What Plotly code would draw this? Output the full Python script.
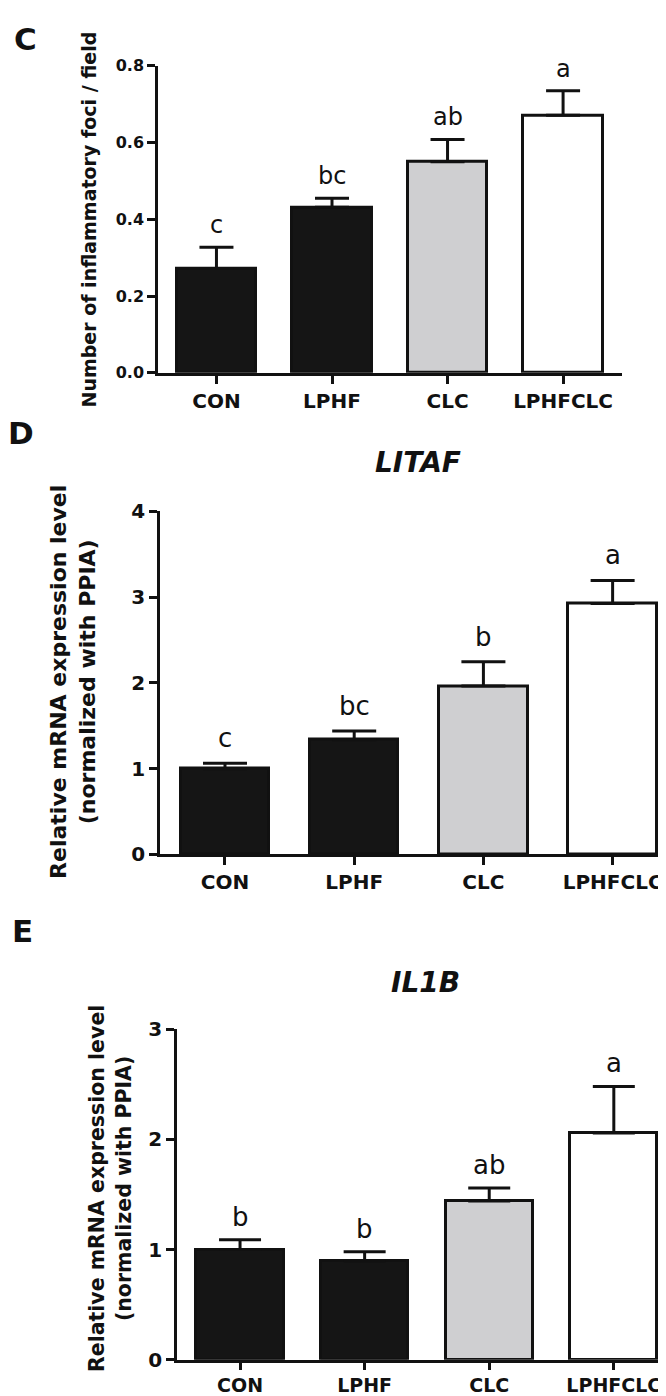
import plotly.graph_objects as go

W, H = 666, 1396

groups = ["CON", "LPHF", "CLC", "LPHFCLC"]
bar_colors = ["#151515", "#151515", "#cfcfd1", "#ffffff"]

# Panel C
c_mean = [0.272, 0.431, 0.550, 0.671]
c_sem = [0.055, 0.024, 0.058, 0.064]
c_letters = ["c", "bc", "ab", "a"]
c_ticks = [0.0, 0.2, 0.4, 0.6, 0.8]

# Panel D (LITAF)
d_mean = [1.00, 1.336, 1.963, 2.926]
d_sem = [0.062, 0.104, 0.285, 0.269]
d_letters = ["c", "bc", "b", "a"]
d_ticks = [0, 1, 2, 3, 4]

# Panel E (IL1B)
e_mean = [1.00, 0.897, 1.440, 2.058]
e_sem = [0.090, 0.083, 0.119, 0.422]
e_letters = ["b", "b", "ab", "a"]
e_ticks = [0, 1, 2, 3]

FONT = "DejaVu Sans"
INK = "#111111"

fig = go.Figure()

def px_x(p):
    return p / W

def px_y(p):
    return 1 - p / H

panels = [
    # mean, sem, letters, ticks, axis id, x domain px, y domain px, xrange, yrange,
    # bar width, cap half-width, y tick font, letter font, letter shift, tick format, x tick font, x ticklen
    (c_mean, c_sem, c_letters, c_ticks, "", (150, 614), (46.5, 359), [-0.506, 3.51], [0, 0.8], 0.69, 17, 16, 24, 6, ".1f", 20, 8),
    (d_mean, d_sem, d_letters, d_ticks, "2", (152, 666), (500, 849), [-0.503, 3.475], [0, 4], 0.685, 22, 20, 26, 8, "d", 20, 8),
    (e_mean, e_sem, e_letters, e_ticks, "3", (169, 666), (1026.7, 1363.3), [-0.506, 3.483], [0, 3], 0.70, 21, 20, 26, 6, "d", 19, 7),
]

annotations = []
for (mean, sem, letters, ticks, ax, xd, yd, xr, yr, bw, capw, tfs, lfs, ysh, tfmt, xfs, xtl) in panels:
    xref = "x" + ax
    yref = "y" + ax
    fig.add_trace(go.Bar(
        x=list(range(len(groups))), y=mean,
        width=bw,
        marker=dict(color=bar_colors, line=dict(color=INK, width=3)),
        error_y=dict(type="data", symmetric=False, array=sem,
                     arrayminus=[0] * len(sem), color=INK, thickness=3, width=capw),
        xaxis=xref, yaxis=yref, showlegend=False, hoverinfo="skip",
    ))
    for i, (m, s, lt) in enumerate(zip(mean, sem, letters)):
        annotations.append(dict(
            x=i, y=m + s, xref=xref, yref=yref, text=lt, showarrow=False,
            yanchor="bottom", xanchor="center", yshift=ysh,
            font=dict(family=FONT, size=lfs, color=INK),
        ))
    xkey = "xaxis" + ax
    ykey = "yaxis" + ax
    fig.update_layout(**{
        xkey: dict(
            domain=[px_x(xd[0]), px_x(xd[1])], range=xr, anchor=yref,
            tickmode="array", tickvals=list(range(len(groups))), ticktext=groups,
            showline=True, linecolor=INK, linewidth=2.5,
            ticks="outside", ticklen=xtl, tickwidth=2.5, tickcolor=INK,
            showgrid=False, zeroline=False, fixedrange=True,
            tickfont=dict(family=FONT, size=xfs, color=INK, weight="bold"),
        ),
        ykey: dict(
            domain=[px_y(yd[1]), px_y(yd[0])], range=yr, anchor=xref,
            tickmode="array", tickvals=ticks, tickformat=tfmt,
            showline=True, linecolor=INK, linewidth=2.5,
            ticks="outside", ticklen=8, tickwidth=2.5, tickcolor=INK,
            showgrid=False, zeroline=False, fixedrange=True,
            tickfont=dict(family=FONT, size=tfs, color=INK, weight="bold"),
        ),
    })

def paper_text(text, x, y, size, bold=True, italic=False, angle=0):
    annotations.append(dict(
        x=px_x(x), y=px_y(y), xref="paper", yref="paper", text=text,
        showarrow=False, xanchor="center", yanchor="middle", textangle=angle,
        font=dict(family=FONT, size=size, color=INK,
                  weight="bold" if bold else "normal",
                  style="italic" if italic else "normal"),
    ))

# panel letters
paper_text("C", 17, 19, 31)
paper_text("D", 13, 420, 31)
paper_text("E", 14, 927, 31)
# titles
paper_text("LITAF", 410, 450.5, 28, italic=True)
paper_text("IL1B", 417, 979, 28, italic=True)
# y-axis titles
paper_text("Number of inflammatory foci / field", 81, 203, 19, angle=-90)
paper_text("Relative mRNA expression level<br>(normalized with PPIA)", 65.5, 674, 22, angle=-90)
paper_text("Relative mRNA expression level<br>(normalized with PPIA)", 102.5, 1189, 20.5, angle=-90)

fig.update_layout(
    width=W, height=H,
    margin=dict(l=0, r=0, t=0, b=0),
    paper_bgcolor="white", plot_bgcolor="white",
    annotations=annotations,
    bargap=0,
    font=dict(family=FONT, color=INK),
)

fig.write_html("out.html")
